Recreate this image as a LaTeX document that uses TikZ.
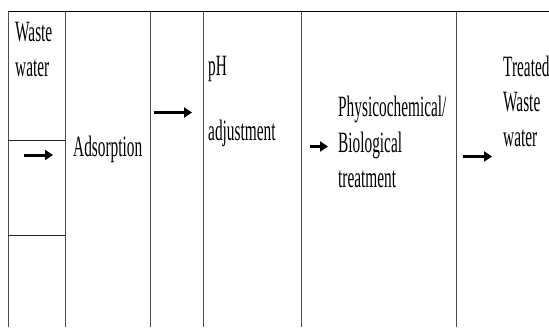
\documentclass[tikz,border=0pt]{standalone}
\usepackage{fontspec}
\usetikzlibrary{arrows.meta}
\newfontfamily\tnr[FakeStretch=0.52]{Liberation Serif}
\tikzset{
  rule/.style={draw=black!70, line width=0.9pt},
  toprule/.style={draw=black, line width=1.4pt},
  lbl/.style={anchor=base west, inner sep=0pt, font=\tnr\fontsize{29.5}{35.4}\selectfont},
  flow/.style={line width=3pt, -{Triangle[length=8pt,width=10pt]}}
}
\begin{document}
\begin{tikzpicture}[x=1pt,y=-1pt]
\useasboundingbox (0,0) rectangle (549,327);
% table rules
\draw[rule] (8,11.5) -- (8,327);
\draw[rule] (65,11.5) -- (65,327);
\draw[rule] (150,11.5) -- (150,327);
\draw[rule] (203,11.5) -- (203,327);
\draw[rule] (301.5,11.5) -- (301.5,327);
\draw[rule] (456,11.5) -- (456,327);
\draw[rule, draw=black!85] (8,140) -- (65,140);
\draw[rule, draw=black!85] (8,235) -- (65,235);
\draw[toprule] (7.5,11.5) -- (549,11.5);
% texts
\node[lbl] (w1) at (15,41.7) {Waste};
\node[lbl] (w2) at (15,76.7) {water};
\node[lbl] (ad) at (73,156.7) {Adsorption};
\node[lbl] (ph) at (208,75) {pH};
\node[lbl] (adj) at (208,140) {adjustment};
\node[lbl] (p1) at (338,116.7) {Physicochemical/};
\node[lbl] (p2) at (338,152) {Biological};
\node[lbl] (p3) at (338,187.3) {treatment};
\node[lbl] (t1) at (503,76.7) {Treated};
\node[lbl] (t2) at (503,111.7) {Waste};
\node[lbl] (t3) at (503,146.7) {water};
% arrows
\coordinate (a1s) at (24,155);   \coordinate (a1e) at (53,155);
\coordinate (a2s) at (154,112.5); \coordinate (a2e) at (192,112.5);
\coordinate (a3s) at (310,146.5); \coordinate (a3e) at (328,146.5);
\coordinate (a4s) at (463,156.5); \coordinate (a4e) at (492,156.5);
\draw[flow] (a1s) -- (a1e);
\draw[flow] (a2s) -- (a2e);
\draw[flow] (a3s) -- (a3e);
\draw[flow] (a4s) -- (a4e);
\end{tikzpicture}
\end{document}
